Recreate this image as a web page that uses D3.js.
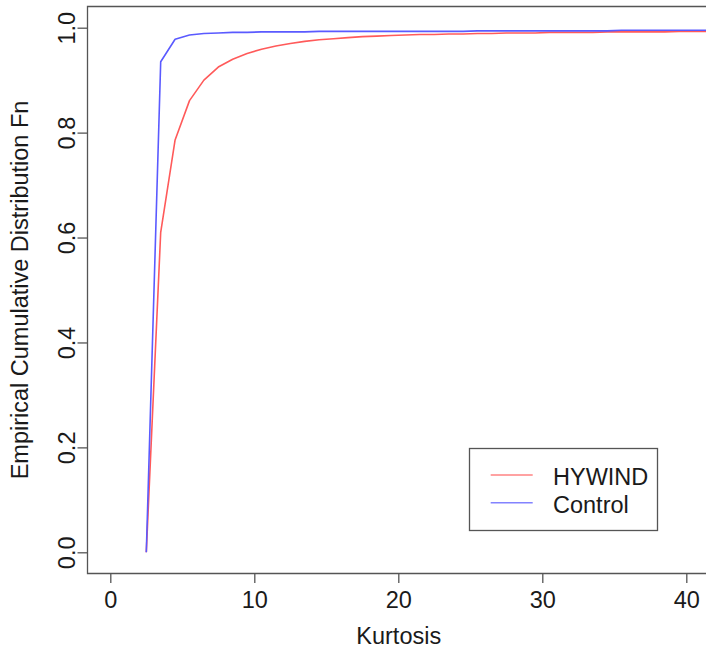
<!DOCTYPE html>
<html lang="en">
<head>
  <meta charset="UTF-8">
  <title>ECDF Kurtosis</title>
  <script src="https://d3js.org/d3.v7.min.js"></script>
  <style>
    * {
      margin: 0;
      padding: 0;
      box-sizing: border-box;
    }
    body {
      background: white;
      font-family: "Liberation Sans", Arial, sans-serif;
    }
    svg text {
      fill: #1a1a1a;
    }
  </style>
</head>
<body>
  <div id="chart"></div>

  <script>
    // kurtosis values where the ecdf was evaluated
    const kurtosis = [2.5, 3.5, 4.5, 5.5, 6.5, 7.5, 8.5, 9.5, 10.5, 11.5, 12.5, 13.5, 14.5,
      15.5, 16.5, 17.5, 18.5, 19.5, 20.5, 21.5, 22.5, 23.5, 24.5, 25.5, 26.5, 27.5, 28.5,
      29.5, 30.5, 31.5, 32.5, 33.5, 34.5, 35.5, 36.5, 37.5, 38.5, 39.5, 40.5, 41.5, 42.5];

    const hywind = [0.000, 0.610, 0.786, 0.861, 0.900, 0.925, 0.940, 0.951, 0.959, 0.965,
      0.970, 0.974, 0.977, 0.979, 0.981, 0.983, 0.984, 0.985, 0.986, 0.987, 0.987, 0.988,
      0.988, 0.989, 0.989, 0.990, 0.990, 0.990, 0.991, 0.991, 0.991, 0.991, 0.992, 0.992,
      0.992, 0.992, 0.992, 0.993, 0.993, 0.993, 0.993];

    const control = [0.000, 0.935, 0.978, 0.986, 0.989, 0.990, 0.991, 0.991, 0.992, 0.992,
      0.992, 0.992, 0.993, 0.993, 0.993, 0.993, 0.993, 0.993, 0.993, 0.993, 0.993, 0.993,
      0.993, 0.994, 0.994, 0.994, 0.994, 0.994, 0.994, 0.994, 0.994, 0.994, 0.994, 0.995,
      0.995, 0.995, 0.995, 0.995, 0.995, 0.995, 0.995];

    const xTicks = [0, 10, 20, 30, 40];
    const yTicks = [0.0, 0.2, 0.4, 0.6, 0.8, 1.0];
    const seriesNames = ["HYWIND", "Control"];
    const seriesColors = ["#ff5a5a", "#5a5aff"];

    const W = 706, H = 654;
    const box = {left: 87.5, top: 6.5, bottom: 573.5};
    const fontSize = "23.5px";

    const svg = d3.select("#chart")
                  .append("svg")
                  .attr("width", W)
                  .attr("height", H);

    const x = d3.scaleLinear().domain([0, 40]).range([110.3, 686.3]);
    const y = d3.scaleLinear().domain([0, 1]).range([552.3, 27.7]);

    svg.append("clipPath")
      .attr("id", "plotclip")
      .append("rect")
      .attr("x", box.left)
      .attr("y", box.top)
      .attr("width", W - box.left)
      .attr("height", box.bottom - box.top);

    // ecdf lines
    const line = d3.line()
                   .x(d => x(d[0]))
                   .y(d => y(d[1]));

    [hywind, control].forEach((vals, i) => {
      svg.append("path")
        .datum(kurtosis.map((k, j) => [k, vals[j]]))
        .attr("clip-path", "url(#plotclip)")
        .attr("fill", "none")
        .attr("stroke", seriesColors[i])
        .attr("stroke-width", 1.6)
        .attr("stroke-linejoin", "round")
        .attr("d", line);
    });

    // plot box (right side runs off the picture)
    svg.append("path")
      .attr("d", `M${W + 5},${box.top}H${box.left}V${box.bottom}H${W + 5}`)
      .attr("fill", "none")
      .attr("stroke", "#555")
      .attr("stroke-width", 1.3);

    // x axis
    svg.append("g")
      .attr("transform", `translate(0,${box.bottom})`)
      .call(d3.axisBottom(x)
              .tickValues(xTicks)
              .tickSize(9.5)
              .tickPadding(8)
              .tickFormat(d3.format("d")))
      .call(g => g.select(".domain").remove())
      .call(g => g.selectAll("line").attr("stroke", "#555").attr("stroke-width", 1.3))
      .call(g => g.selectAll("text")
                  .attr("fill", "#1a1a1a")
                  .style("font-size", fontSize)
                  .style("font-family", "Liberation Sans, Arial, sans-serif"));

    // y axis with labels turned parallel to the axis
    const yAxis = svg.append("g")
      .attr("transform", `translate(${box.left},0)`)
      .call(d3.axisLeft(y)
              .tickValues(yTicks)
              .tickSize(10)
              .tickFormat(d3.format(".1f")))
      .call(g => g.select(".domain").remove())
      .call(g => g.selectAll("line").attr("stroke", "#555").attr("stroke-width", 1.3));

    yAxis.selectAll("text")
      .attr("x", null)
      .attr("dy", null)
      .attr("text-anchor", "middle")
      .attr("transform", "translate(-13,0) rotate(-90)")
      .attr("fill", "#1a1a1a")
      .style("font-size", fontSize)
      .style("font-family", "Liberation Sans, Arial, sans-serif");

    // axis titles
    svg.append("text")
      .attr("x", (box.left + W) / 2 + 2)
      .attr("y", 644)
      .attr("text-anchor", "middle")
      .style("font-size", fontSize)
      .text("Kurtosis");

    svg.append("text")
      .attr("transform", `translate(28,${(box.top + box.bottom) / 2}) rotate(-90)`)
      .attr("text-anchor", "middle")
      .style("font-size", fontSize)
      .text("Empirical Cumulative Distribution Fn");

    // legend
    const legend = svg.append("g");
    legend.append("rect")
      .attr("x", 469.5)
      .attr("y", 448.5)
      .attr("width", 188)
      .attr("height", 82)
      .attr("fill", "white")
      .attr("stroke", "#555")
      .attr("stroke-width", 1.3);

    seriesNames.forEach((name, i) => {
      const ly = 475 + i * 27.7;
      legend.append("line")
        .attr("x1", 490.7)
        .attr("x2", 532.7)
        .attr("y1", ly)
        .attr("y2", ly)
        .attr("stroke", seriesColors[i])
        .attr("stroke-opacity", 0.75)
        .attr("stroke-width", 1.4);
      legend.append("text")
        .attr("x", 553)
        .attr("y", ly + 10)
        .style("font-size", fontSize)
        .text(name);
    });
  </script>
</body>
</html>
